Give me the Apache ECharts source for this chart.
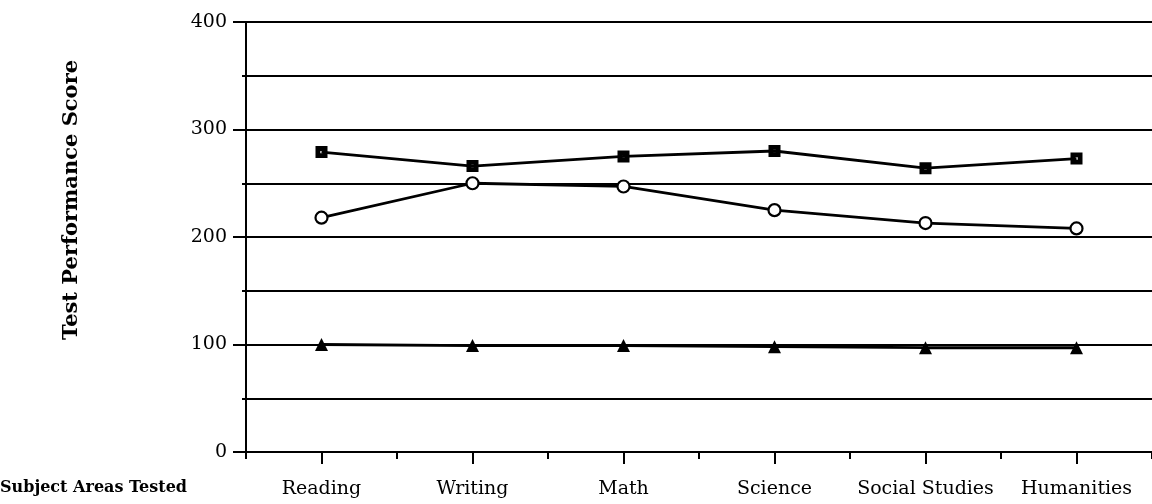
<!DOCTYPE html>
<html>
<head>
<meta charset="utf-8">
<script src="https://cdn.jsdelivr.net/npm/echarts@6/dist/echarts.min.js"></script>
<style>
html,body{margin:0;padding:0;background:#fff;}
#chart{width:1152px;height:504px;}
</style>
</head>
<body>
<div id="chart"></div>
<script>
var categories = ['Reading', 'Writing', 'Math', 'Science', 'Social Studies', 'Humanities'];
var squareSeries = [279, 266, 275, 280, 264, 273];
var circleSeries = [218, 250, 247, 225, 213, 208];
var triangleSeries = [100, 99, 99, 98, 97, 97];
var yTickLabels = ['0', '100', '200', '300', '400'];
var yAxisTitle = 'Test Performance Score';
var xAxisTitle = 'Subject Areas Tested';

var chart = echarts.init(document.getElementById('chart'), null, {renderer: 'canvas'});
var serif = 'DejaVu Serif';
var black = '#000';
var squarePath = 'path://M0,0H10V10H0Z M4,4V6H6V4Z';

function lineSeries(data, symbol, size, fill) {
  return {
    type: 'line',
    xAxisIndex: 0,
    yAxisIndex: 0,
    data: data,
    symbol: symbol,
    symbolSize: size,
    showAllSymbol: true,
    lineStyle: {color: black, width: 2.8},
    itemStyle: {color: fill, borderColor: black, borderWidth: fill === '#fff' ? 2.2 : 0},
    emphasis: {disabled: true},
    animation: false,
    z: 5
  };
}

chart.setOption({
  backgroundColor: '#fff',
  animation: false,
  grid: {left: 246, right: 0, top: 22, bottom: 52, containLabel: false},
  xAxis: [{
    type: 'category',
    data: categories,
    boundaryGap: true,
    position: 'bottom',
    axisLine: {show: true, lineStyle: {color: black, width: 2}},
    axisTick: {show: true, alignWithLabel: true, length: 12, lineStyle: {color: black, width: 2}},
    axisLabel: {show: true, margin: 28, color: black, fontFamily: serif, fontSize: 19, interval: 0},
    splitLine: {show: false}
  }, {
    type: 'category',
    data: categories,
    boundaryGap: true,
    position: 'bottom',
    axisLine: {show: false},
    axisTick: {show: true, alignWithLabel: false, length: 7, lineStyle: {color: black, width: 2}},
    axisLabel: {show: false},
    splitLine: {show: false}
  }],
  yAxis: [{
    type: 'value',
    position: 'left',
    min: 0,
    max: 400,
    interval: 100,
    axisLine: {show: true, lineStyle: {color: black, width: 2}},
    axisTick: {show: true, length: 13, lineStyle: {color: black, width: 2}},
    axisLabel: {
      show: true, margin: 19, color: black, fontFamily: serif, fontSize: 19,
      formatter: function (v) { return yTickLabels[Math.round(v / 100)]; }
    },
    splitLine: {show: false}
  }, {
    type: 'value',
    position: 'left',
    min: 0,
    max: 400,
    interval: 50,
    axisLine: {show: false},
    axisTick: {show: true, length: 4, lineStyle: {color: black, width: 2}},
    axisLabel: {show: false},
    splitLine: {show: true, lineStyle: {color: black, width: 2}}
  }],
  graphic: [{
    type: 'text',
    left: 0,
    top: 480,
    style: {text: xAxisTitle, font: 'bold 16px "DejaVu Serif"', fill: black}
  }, {
    type: 'text',
    x: 72,
    y: 200,
    rotation: Math.PI / 2,
    style: {text: yAxisTitle, font: 'bold 21px "DejaVu Serif"', fill: black, align: 'center', verticalAlign: 'middle'}
  }],
  series: [
    lineSeries(squareSeries, squarePath, 12, black),
    lineSeries(circleSeries, 'circle', 12, '#fff'),
    lineSeries(triangleSeries, 'triangle', 13, black)
  ]
});
</script>
</body>
</html>
